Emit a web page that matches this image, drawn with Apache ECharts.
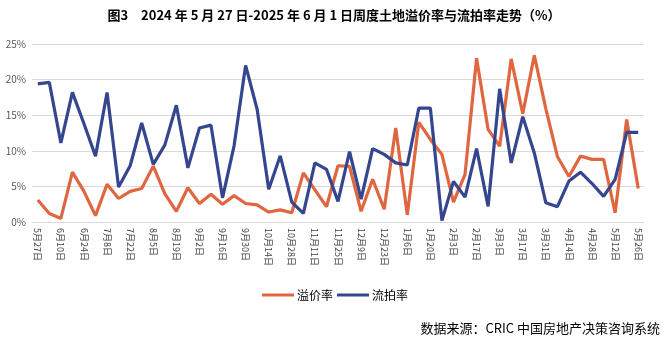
<!DOCTYPE html>
<html>
<head>
<meta charset="utf-8">
<script src="https://cdn.jsdelivr.net/npm/echarts@6/dist/echarts.min.js"></script>
<style>
html,body{margin:0;padding:0;background:#fff;}
#c{width:668px;height:351px;}
</style>
</head>
<body>
<div id="c"></div>
<script>
const categories = ["5月27日","6月3日","6月10日","6月17日","6月24日","7月1日","7月8日","7月15日","7月22日","7月29日","8月5日","8月12日","8月19日","8月26日","9月2日","9月9日","9月16日","9月23日","9月30日","10月7日","10月14日","10月21日","10月28日","11月4日","11月11日","11月18日","11月25日","12月2日","12月9日","12月16日","12月23日","12月30日","1月6日","1月13日","1月20日","1月27日","2月3日","2月10日","2月17日","2月24日","3月3日","3月10日","3月17日","3月24日","3月31日","4月7日","4月14日","4月21日","4月28日","5月5日","5月12日","5月19日","5月26日"];
const premiumRate = [3.1,1.2,0.5,7.0,4.3,0.9,5.3,3.3,4.3,4.7,7.85,4.0,1.5,4.8,2.6,3.9,2.5,3.7,2.6,2.4,1.4,1.7,1.3,6.9,4.5,2.15,7.9,7.8,1.5,6.0,1.8,13.2,1.0,14.0,11.6,9.5,2.8,6.7,23.0,13.0,10.65,22.9,15.2,23.4,15.9,9.2,6.4,9.25,8.8,8.8,1.3,14.4,4.7];
const failRate = [19.4,19.6,11.1,18.2,13.8,9.25,18.2,4.9,7.9,13.9,8.1,10.8,16.4,7.6,13.2,13.6,3.4,10.7,22.0,15.8,4.6,9.3,2.8,1.2,8.3,7.4,2.9,9.9,3.2,10.3,9.5,8.3,8.0,16.0,16.0,0.2,5.7,3.5,10.3,2.2,18.7,8.3,14.8,9.7,2.7,2.15,5.75,7.0,5.4,3.6,6.0,12.6,12.6];
const yTicks = [0,5,10,15,20,25];

const chart = echarts.init(document.getElementById('c'));
chart.setOption({
  animation:false,
  backgroundColor:'#fff',
  title:{
    text:'图3　2024 年 5 月 27 日-2025 年 6 月 1 日周度土地溢价率与流拍率走势（%）',
    left:'center', top:4,
    textStyle:{fontFamily:'"Noto Sans CJK SC"',fontSize:13,fontWeight:'bold',color:'#000'}
  },
  legend:{
    data:[{name:'溢价率',icon:'rect'},{name:'流拍率',icon:'rect'}],
    left:257, top:284,
    itemWidth:32, itemHeight:3, itemGap:4,
    textStyle:{fontFamily:'"Noto Sans CJK SC"',fontSize:12,color:'#000',padding:[0,0,0,-2]}
  },
  graphic:[{
    type:'text', right:8, top:322,
    style:{text:'数据来源：CRIC 中国房地产决策咨询系统',fontFamily:'"Noto Sans CJK SC"',fontSize:13,fill:'#000'}
  }],
  grid:{left:32,right:24,top:44,bottom:129},
  xAxis:{
    type:'category', data:categories, boundaryGap:true,
    axisLine:{lineStyle:{color:'#D9D9D9'}},
    axisTick:{show:false},
    axisLabel:{interval:1,rotate:-90,fontFamily:'"Noto Sans CJK SC"',fontSize:9,color:'#404040',margin:6}
  },
  yAxis:{
    type:'value', min:yTicks[0], max:yTicks[yTicks.length-1], interval:5,
    axisLine:{show:false}, axisTick:{show:false},
    splitLine:{lineStyle:{color:'#D9D9D9'}},
    axisLabel:{formatter:'{value}%',fontFamily:'"Noto Sans CJK SC"',fontSize:10,color:'#595959',margin:6}
  },
  series:[
    {name:'溢价率',type:'line',data:premiumRate,showSymbol:false,symbol:'none',
     lineStyle:{color:'#E0663F',width:3.2},itemStyle:{color:'#E0663F'}},
    {name:'流拍率',type:'line',data:failRate,showSymbol:false,symbol:'none',
     lineStyle:{color:'#35468F',width:3.2},itemStyle:{color:'#35468F'}}
  ]
});
</script>
</body>
</html>
